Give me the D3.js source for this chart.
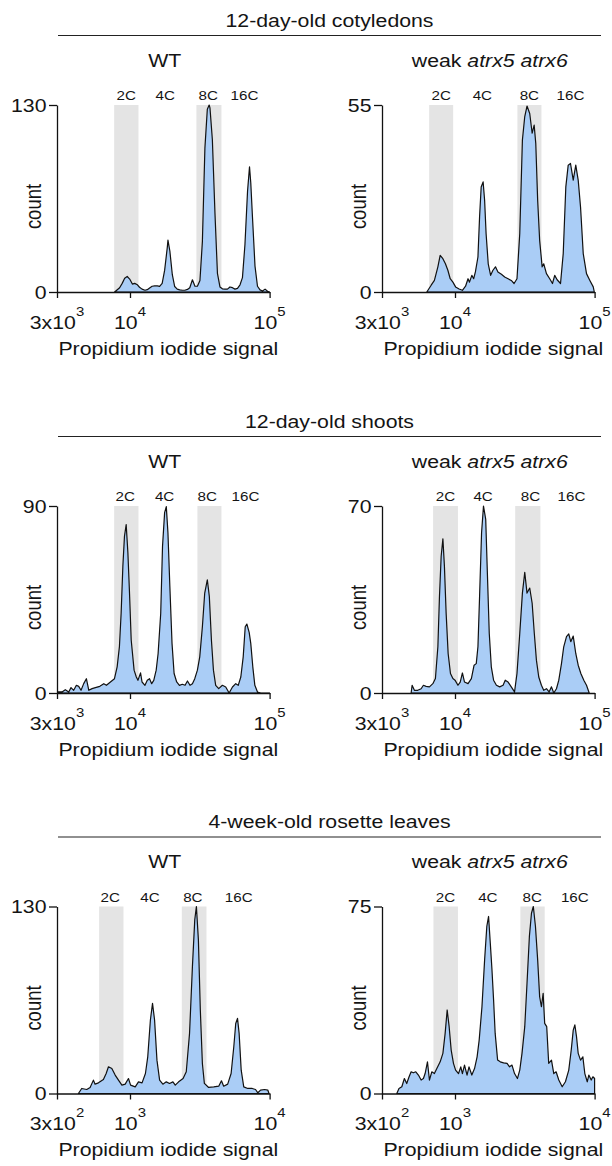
<!DOCTYPE html>
<html><head><meta charset="utf-8">
<script src="https://cdn.jsdelivr.net/npm/d3@7"></script>
<style>body{margin:0;background:#fff}svg{display:block}</style>
</head><body>
<svg id="chart" width="612" height="1166"></svg>
<script>
// ---------------- data ----------------
const groupTitles = ["12-day-old cotyledons", "12-day-old shoots", "4-week-old rosette leaves"];
const genotypes = ["WT", "weak atrx5 atrx6"];
const ploidyLabels = ["2C", "4C", "8C", "16C"];

const xDomainSeedling = [3000, 100000];
const xDomainRosette = [300, 10000];
const xTicksSeedling = [3000, 10000, 100000];
const xTickLabelsSeedling = [["3x10", "3"], ["10", "4"], ["10", "5"]];
const xTicksRosette = [300, 1000, 10000];
const xTickLabelsRosette = [["3x10", "2"], ["10", "3"], ["10", "4"]];

const yMaxCoty = [130, 55];
const yMaxShoot = [90, 70];
const yMaxRosette = [130, 75];

const bandsCotyWT = [[7700, 11500], [29900, 45200]];
const bandsCotyMut = [[6530, 9700], [28000, 41600]];
const bandsShootWT = [[7700, 11500], [30400, 45200]];
const bandsShootMut = [[6970, 10500], [27000, 40900]];
const bandsRosetteWT = [[601, 898], [2350, 3530]];
const bandsRosetteMut = [[701, 1050], [2940, 4390]];

const ploidyXCotyWT = [9390, 17900, 36400, 66100];
const ploidyXCotyMut = [7960, 15700, 34100, 67200];
const ploidyXShootWT = [9240, 17700, 35700, 67200];
const ploidyXShootMut = [8540, 15900, 34700, 68300];
const ploidyXRosetteWT = [721, 1390, 2820, 6010];
const ploidyXRosetteMut = [854, 1720, 3580, 7220];

// [propidium iodide signal, count]
const cotyWT = [[7760,0],[8430,3],[8790,6],[9160,9.5],[9550,10.8],[9950,9],[10400,5.5],[10800,6],[11300,5],[11700,3.3],[12200,2],[12800,1.2],[13300,1.6],[13900,3],[14400,4],[15000,4.2],[15700,4.2],[16300,3.9],[17000,6],[17700,15],[18500,31],[18700,36],[19300,28.5],[20100,12],[20900,3.8],[21800,2],[22700,1.5],[23700,1.2],[24700,1.2],[25800,1.8],[26800,3],[28000,8.5],[29200,4],[30400,4],[31700,8],[33000,35],[34400,100],[35800,127],[36900,130],[37400,128],[38900,106],[40600,55],[42300,13],[44100,3.5],[45900,2.2],[47900,2],[49900,2],[52000,3.5],[54200,3],[56500,2],[58900,2.5],[61400,5],[63900,10],[66600,33],[69500,70],[71800,87],[73300,76],[75400,52],[78600,18],[81900,4],[85400,1.5],[89000,0.7],[92800,2],[96700,0.5],[99800,0]];
const cotyMut = [[6280,0],[6750,2],[7120,3.4],[7540,7.4],[7830,10.8],[8190,9.8],[8540,8.3],[8890,6.4],[9240,3.9],[9660,2.9],[10100,1.5],[10700,0.9],[11300,0.5],[11900,1.7],[12400,3.9],[12700,2.9],[13200,4.9],[13600,3.9],[14000,5.9],[14600,10.3],[15000,22.1],[15400,30.9],[15900,32.4],[16300,27],[16700,17.2],[17300,8.3],[18000,4.9],[18700,6.4],[19500,7.4],[20300,5.9],[21500,5.2],[22700,4.4],[24000,3.9],[25300,3.4],[26500,2.5],[27800,3.9],[29100,17.2],[30400,44.7],[31600,51.6],[32800,54.7],[34300,52.5],[35700,46.7],[36900,49.1],[37900,43.7],[39100,27],[40400,15.2],[42100,7.4],[43200,8.3],[45200,5.4],[47700,3.9],[49900,2.5],[51800,4.9],[53900,3.6],[57000,2.5],[59600,11.3],[62200,30.9],[64700,37.3],[67200,37.8],[70300,32.9],[73300,37.3],[76300,32.9],[79300,25],[82900,11.3],[87500,5.4],[92500,3.4],[97800,1.5],[99500,0]];
const shootWT = [[3030,0.5],[3260,0.5],[3440,1.6],[3640,0.5],[3780,2.6],[3950,1.3],[4130,3.7],[4290,3.2],[4460,1.3],[4660,4.5],[4870,6.9],[5070,1.3],[5350,2.1],[5650,2.6],[6080,3.2],[6490,4.5],[6780,3.7],[7240,5.3],[7740,6.9],[8090,12.6],[8400,22.3],[8640,38.4],[8890,61],[9130,75.5],[9390,81.1],[9660,67.4],[9920,48.1],[10200,25.5],[10700,11],[11100,7.7],[11400,6.1],[11900,9.7],[12200,5.3],[12800,3.7],[13300,6.1],[13800,6.9],[14300,4.5],[14800,6.1],[15400,11],[15900,19],[16600,38.4],[17100,70.6],[17700,86.8],[18200,89.7],[18700,77.1],[19300,51.3],[20000,23.9],[20700,9.4],[21600,5.3],[22600,3.7],[23700,4.2],[24800,3.7],[25800,5.8],[26900,3.7],[28000,4.5],[29100,6.9],[30400,11],[31600,17.4],[33000,31.9],[34300,48.1],[35800,54.5],[37000,46.5],[38300,25.5],[39600,11],[41100,3.7],[43200,2.1],[45900,3.7],[48500,2.9],[51300,0],[54200,2.9],[57200,4.5],[59600,3.7],[62200,7.7],[64700,17.4],[66900,31.9],[68700,33.2],[71400,29.2],[73300,23.9],[75800,12.6],[78400,3.7],[81900,0.5],[86500,0],[100000,0]];
const shootMut = [[4850,0],[4930,2.9],[5120,1],[5410,1],[5720,1.6],[5940,2.9],[6210,2.5],[6560,2.3],[6940,3.5],[7240,5.4],[7540,17.3],[7740,36.1],[7960,51.2],[8190,57.7],[8400,47.4],[8640,29.9],[8930,14.8],[9280,7.3],[9660,5.4],[10000,4.8],[10500,2.9],[10900,4.1],[11300,7.5],[11700,4.1],[12400,3.5],[13100,5.4],[13700,10.4],[14200,11],[14600,17.3],[15000,36.1],[15500,60],[16000,70],[16600,65],[17000,47.4],[17600,22.3],[18200,9.8],[18900,4.8],[19800,2.9],[20900,2.3],[22100,2.9],[22900,4.8],[24000,4.1],[25300,2.3],[26700,0.4],[27800,7.3],[29100,22.3],[30400,37.4],[31600,45.2],[32800,37.4],[34300,39.3],[35700,33.6],[37000,22.3],[38300,12.3],[39800,6],[41600,2.9],[43200,1],[45200,1.6],[47200,0.4],[49100,2.3],[51000,0],[53300,1.6],[55400,4.8],[57900,11],[60100,17.3],[62900,21.1],[65300,22.1],[67500,19.2],[70300,21.3],[73300,14.8],[76300,10.4],[79700,7.3],[83700,4.8],[87500,2.9],[91500,0]];
const rosetteWT = [[427,0],[451,3.5],[490,2.8],[518,4.2],[547,9.3],[562,6.5],[594,7.4],[645,9.7],[675,13.9],[701,18.6],[741,17.4],[783,12.8],[827,9.3],[875,5.8],[924,6.5],[975,10.4],[1010,5.8],[1090,4.6],[1150,8.1],[1220,7.4],[1290,13.9],[1340,25.5],[1400,51.1],[1450,62.7],[1500,51.1],[1560,23.2],[1630,9.3],[1720,6.5],[1820,8.1],[1920,7],[2030,8.1],[2110,5.8],[2230,8.1],[2400,10.4],[2530,15.1],[2670,41.8],[2800,88.2],[2910,120.7],[2990,130],[3090,106.8],[3190,58],[3300,20.9],[3410,7],[3660,4.2],[3980,4.6],[4320,5.1],[4520,8.8],[4690,5.1],[5010,6.5],[5300,13.9],[5540,32.5],[5720,48.7],[5890,52.2],[6050,41.8],[6260,16.2],[6530,4.6],[6980,3.5],[7510,3.5],[7930,2.8],[8240,0.5],[8610,2.3],[9200,2.8],[9720,2.3],[9900,0]];
const rosetteMut = [[383,0],[397,2],[416,2.7],[434,6],[451,4],[469,6.7],[485,8.7],[503,8.3],[524,8.7],[547,7.4],[572,5.4],[594,6],[611,8],[635,12.7],[656,5.4],[682,8.7],[712,8],[741,10],[783,12.7],[819,16.1],[850,24.1],[879,33.5],[908,26.8],[939,17.4],[975,12.1],[1010,9.4],[1060,8],[1100,10.7],[1130,8],[1170,11.4],[1220,7.4],[1260,10.7],[1320,7.4],[1380,10],[1440,14.7],[1490,21.4],[1560,34.8],[1630,53.6],[1690,67],[1740,71],[1790,60.3],[1840,49.6],[1890,37.5],[1940,24.1],[2020,13.4],[2110,12.7],[2230,12.3],[2360,12.1],[2460,10.7],[2560,11.4],[2670,8],[2800,6],[2910,9.4],[3020,16.1],[3160,26.8],[3280,44.2],[3410,62.9],[3530,72.3],[3640,75],[3770,67],[3910,53.6],[4040,38.8],[4160,34.8],[4280,40.2],[4390,28.1],[4540,26.8],[4690,12.1],[4910,13.4],[5100,8],[5300,8.7],[5540,5.4],[5860,2.7],[6180,4.7],[6530,9.4],[6800,17.4],[7030,25.4],[7220,27.5],[7420,22.8],[7630,16.1],[7930,13.4],[8240,14.7],[8510,8],[8860,4.7],[9090,7.4],[9460,5.4],[9720,6.7],[10000,6]];

// ---------------- layout ----------------
const FONT = "'Liberation Sans', Arial, Helvetica, sans-serif";
const SX = 1.15;           // horizontal stretch of the original figure's lettering
const TEXT = "#141414";
const rowOffsets = [0, 401, 801.5];
const colAxisX = [57, 382];
const plotW = 212.6, plotTop = 105, plotH = 187;

const panels = [
  {row:0, col:0, data:cotyWT, ymax:yMaxCoty[0], bands:bandsCotyWT, px:ploidyXCotyWT, dom:xDomainSeedling, ticks:xTicksSeedling, tl:xTickLabelsSeedling},
  {row:0, col:1, data:cotyMut, ymax:yMaxCoty[1], bands:bandsCotyMut, px:ploidyXCotyMut, dom:xDomainSeedling, ticks:xTicksSeedling, tl:xTickLabelsSeedling},
  {row:1, col:0, data:shootWT, ymax:yMaxShoot[0], bands:bandsShootWT, px:ploidyXShootWT, dom:xDomainSeedling, ticks:xTicksSeedling, tl:xTickLabelsSeedling},
  {row:1, col:1, data:shootMut, ymax:yMaxShoot[1], bands:bandsShootMut, px:ploidyXShootMut, dom:xDomainSeedling, ticks:xTicksSeedling, tl:xTickLabelsSeedling},
  {row:2, col:0, data:rosetteWT, ymax:yMaxRosette[0], bands:bandsRosetteWT, px:ploidyXRosetteWT, dom:xDomainRosette, ticks:xTicksRosette, tl:xTickLabelsRosette},
  {row:2, col:1, data:rosetteMut, ymax:yMaxRosette[1], bands:bandsRosetteMut, px:ploidyXRosetteMut, dom:xDomainRosette, ticks:xTicksRosette, tl:xTickLabelsRosette}
];

const svg = d3.select("#chart");

function sText(parent, x, y, anchor, size, extra) {
  const g = parent.append("g").attr("transform", `translate(${x},${y}) scale(${SX},1)` + (extra || ""));
  return g.append("text").attr("text-anchor", anchor).attr("font-size", size)
    .attr("font-family", FONT).attr("fill", TEXT);
}

// group titles and rules
groupTitles.forEach((t, i) => {
  const off = rowOffsets[i];
  sText(svg, 329.5, 26.7 + off, "middle", 18.5).text(t);
  svg.append("line").attr("x1", 58).attr("x2", 601)
    .attr("y1", 35.5 + off).attr("y2", 35.5 + off)
    .attr("stroke", "#222").attr("stroke-width", 1.2);
});

panels.forEach(p => {
  const off = rowOffsets[p.row];
  const x0 = colAxisX[p.col];
  const top = plotTop + off, bottom = top + plotH;
  const x = d3.scaleLog().domain(p.dom).range([x0, x0 + plotW]);
  const y = d3.scaleLinear().domain([0, p.ymax]).range([bottom, top]);
  const g = svg.append("g");

  // genotype title
  const gt = sText(g, x0 + plotW / 2 + 1.5, 66.7 + off, "middle", 18.5);
  if (p.col === 0) gt.text(genotypes[0]);
  else {
    const parts = genotypes[1].split(" ");
    gt.append("tspan").text(parts[0] + " ");
    gt.append("tspan").attr("font-style", "italic").text(parts.slice(1).join(" "));
  }

  // grey ploidy bands
  g.selectAll("rect.band").data(p.bands).join("rect").attr("class", "band")
    .attr("x", d => x(d[0])).attr("width", d => x(d[1]) - x(d[0]))
    .attr("y", top).attr("height", plotH).attr("fill", "#e4e4e4");

  // ploidy labels
  p.px.forEach((v, i) => {
    sText(g, x(v), 100 + off, "middle", 13.2).text(ploidyLabels[i]);
  });

  // histogram
  const area = d3.area().x(d => x(d[0])).y0(y(0)).y1(d => y(d[1])).curve(d3.curveLinear);
  g.append("path").datum(p.data).attr("d", area)
    .attr("fill", "#aacdf6").attr("stroke", "#111").attr("stroke-width", 1.2)
    .attr("stroke-linejoin", "round");

  // axes
  const ya = d3.axisLeft(y).tickValues([0, p.ymax]).tickSize(8).tickSizeOuter(0).tickFormat("");
  const yg = g.append("g").attr("transform", `translate(${x0},0)`).call(ya);
  const xa = d3.axisBottom(x).tickValues(p.ticks).tickSize(6).tickSizeOuter(0).tickFormat("");
  const xg = g.append("g").attr("transform", `translate(0,${bottom})`).call(xa);
  [yg, xg].forEach(a => {
    a.selectAll("path,line").attr("stroke", "#111").attr("stroke-width", 1.3);
  });

  // y tick labels
  [0, p.ymax].forEach(v => {
    sText(g, x0 - 10.5, y(v) + 6.8, "end", 18.5).text(v);
  });
  // x tick labels
  p.ticks.forEach((v, i) => {
    const t = sText(g, x(v), bottom + 36.5, "middle", 18.5);
    t.append("tspan").text(p.tl[i][0]);
    t.append("tspan").attr("dy", -13).attr("font-size", 13).text(p.tl[i][1]);
  });
  // axis titles
  sText(g, x0 + plotW / 2 + 5, bottom + 62.5, "middle", 18.5).text("Propidium iodide signal");
  sText(g, x0 - 16.5, top + plotH / 2 + 8, "middle", 18.5, " rotate(-90)").text("count");
});
</script>
</body></html>
